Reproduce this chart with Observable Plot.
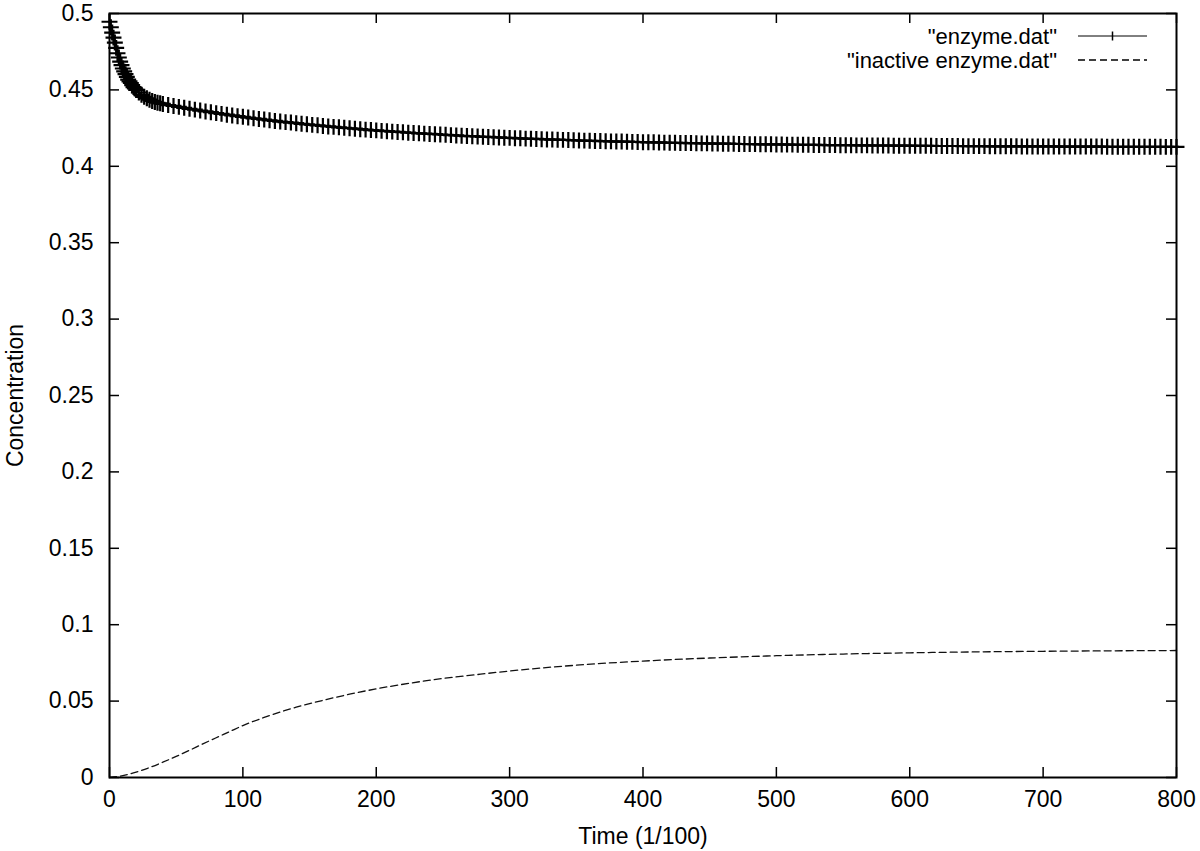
<!DOCTYPE html>
<html><head><meta charset="utf-8">
<script src="https://cdn.jsdelivr.net/npm/d3@7"></script>
<script src="https://cdn.jsdelivr.net/npm/@observablehq/plot@0.6"></script>
<style>
html,body{margin:0;padding:0;background:#fff;}
#chart{width:1200px;height:851px;}
</style></head><body><div id="chart"></div>
<script>
const xTicks = [0,100,200,300,400,500,600,700,800];
const xTickLabels = ["0","100","200","300","400","500","600","700","800"];
const yTicks = [0,0.05,0.1,0.15,0.2,0.25,0.3,0.35,0.4,0.45,0.5];
const yTickLabels = ["0","0.05","0.1","0.15","0.2","0.25","0.3","0.35","0.4","0.45","0.5"];
const seriesNames = ['"enzyme.dat"', '"inactive enzyme.dat"'];
const xLabel = "Time (1/100)";
const yLabel = "Concentration";

// "enzyme.dat": t = 0..20 every 1
const enzymeEarly = [0.4946,0.4910,0.4875,0.4842,0.4810,0.4775,0.4740,0.4712,0.4685,0.4662,0.4640,
  0.4621,0.4603,0.4585,0.4567,0.4556,0.4545,0.4531,0.4518,0.4509,0.4500];
// t = 22..38 every 2
const enzymeMid = [0.4483,0.4468,0.4455,0.4445,0.4436,0.4428,0.4421,0.4416,0.4412];
// t = 40..800 every 4
const enzymeLate = [
  0.4408,0.4401,0.4395,0.4389,0.4383,0.4376,0.4371,0.4365,0.4359,0.4354,
  0.4348,0.4343,0.4338,0.4333,0.4328,0.4324,0.4319,0.4314,0.4310,0.4306,
  0.4301,0.4297,0.4293,0.4289,0.4286,0.4282,0.4278,0.4275,0.4271,0.4268,
  0.4264,0.4261,0.4258,0.4255,0.4252,0.4249,0.4246,0.4243,0.4240,0.4237,
  0.4235,0.4232,0.4230,0.4227,0.4225,0.4223,0.4220,0.4218,0.4216,0.4214,
  0.4212,0.4210,0.4208,0.4206,0.4204,0.4202,0.4200,0.4198,0.4197,0.4195,
  0.4193,0.4192,0.4190,0.4189,0.4187,0.4186,0.4184,0.4183,0.4181,0.4180,
  0.4179,0.4177,0.4176,0.4175,0.4174,0.4173,0.4172,0.4170,0.4169,0.4168,
  0.4167,0.4166,0.4165,0.4164,0.4163,0.4162,0.4162,0.4161,0.4160,0.4159,
  0.4158,0.4157,0.4157,0.4156,0.4155,0.4154,0.4154,0.4153,0.4152,0.4152,
  0.4151,0.4150,0.4150,0.4149,0.4149,0.4148,0.4148,0.4147,0.4146,0.4146,
  0.4145,0.4145,0.4144,0.4144,0.4144,0.4143,0.4143,0.4142,0.4142,0.4141,
  0.4141,0.4141,0.4140,0.4140,0.4139,0.4139,0.4139,0.4138,0.4138,0.4138,
  0.4137,0.4137,0.4137,0.4136,0.4136,0.4136,0.4136,0.4135,0.4135,0.4135,
  0.4135,0.4134,0.4134,0.4134,0.4134,0.4133,0.4133,0.4133,0.4133,0.4133,
  0.4132,0.4132,0.4132,0.4132,0.4132,0.4131,0.4131,0.4131,0.4131,0.4131,
  0.4131,0.4130,0.4130,0.4130,0.4130,0.4130,0.4130,0.4130,0.4129,0.4129,
  0.4129,0.4129,0.4129,0.4129,0.4129,0.4129,0.4129,0.4128,0.4128,0.4128,
  0.4128,0.4128,0.4128,0.4128,0.4128,0.4128,0.4128,0.4128,0.4127,0.4127,
  0.4127];

// "inactive enzyme.dat"
const inactiveTime = [0,10,20,30,40,50,60,70,80,90,100,120,140,160,180,200,225,250,275,300,350,400,450,500,550,600,650,700,750,800];
const inactiveValue = [0,0.0012,0.0035,0.0065,0.0100,0.0138,0.0178,0.0220,0.0260,0.0300,0.0340,0.0405,0.0460,0.0505,0.0545,0.0580,0.0617,0.0648,0.0673,0.0697,0.0735,0.0762,0.0782,0.0797,0.0808,0.0816,0.0822,0.0826,0.0829,0.0831];

const enzyme = [
  ...enzymeEarly.map((v, i) => ({t: i, v})),
  ...enzymeMid.map((v, i) => ({t: 22 + 2 * i, v})),
  ...enzymeLate.map((v, i) => ({t: 40 + 4 * i, v}))
];
const inactive = inactiveTime.map((t, i) => ({t, v: inactiveValue[i]}));

const W = 1200, H = 851, mL = 109, mR = 24, mT = 13, mB = 74;
const iw = W - mL - mR, ih = H - mT - mB, tick = 10;
const font = "'Liberation Sans', Arial, Helvetica, sans-serif";

const plot = Plot.plot({
  width: W, height: H,
  marginLeft: mL, marginRight: mR, marginTop: mT, marginBottom: mB,
  style: {fontFamily: font, fontSize: "23px", color: "black", background: "white", overflow: "visible"},
  x: {domain: [0, 800], axis: null},
  y: {domain: [0, 0.5], axis: null},
  marks: [
    Plot.ruleX(xTicks, {x: d => d, insetTop: ih - tick, stroke: "black", strokeWidth: 1.5}),
    Plot.ruleX(xTicks, {x: d => d, insetBottom: ih - tick, stroke: "black", strokeWidth: 1.5}),
    Plot.ruleY(yTicks, {y: d => d, insetRight: iw - tick, stroke: "black", strokeWidth: 1.5}),
    Plot.ruleY(yTicks, {y: d => d, insetLeft: iw - tick, stroke: "black", strokeWidth: 1.5}),
    Plot.axisX({ticks: xTicks, tickFormat: d => xTickLabels[xTicks.indexOf(d)], tickSize: 0, tickPadding: 13, label: null, fontSize: 23}),
    Plot.axisY({ticks: yTicks, tickFormat: d => yTickLabels[yTicks.indexOf(d)], tickSize: 0, tickPadding: 16, label: null, fontSize: 23}),
    Plot.line(inactive, {x: "t", y: "v", stroke: "#111", strokeWidth: 1.3, strokeDasharray: "7,4", curve: "monotone-x"}),
    Plot.line(enzyme, {x: "t", y: "v", stroke: "black", strokeWidth: 1.5}),
    Plot.dot(enzyme, {x: "t", y: "v", symbol: "plus", r: 5.2, stroke: "black", strokeWidth: 2.2}),
    Plot.frame({stroke: "black", strokeWidth: 2}),
    Plot.text([xLabel], {frameAnchor: "bottom", dy: 59, lineAnchor: "middle", textAnchor: "middle", text: d => d, fontSize: 23, fill: "black"}),
    Plot.text([yLabel], {frameAnchor: "left", dx: -94, rotate: -90, lineAnchor: "middle", textAnchor: "middle", text: d => d, fontSize: 23, fill: "black"})
  ]
});

// Legend (gnuplot-style, top right inside the frame)
const svg = d3.select(plot);
const lg = svg.append("g").attr("font-family", font).attr("font-size", 22);
const rows = [{name: seriesNames[0], y: 36, dash: null, marker: true}, {name: seriesNames[1], y: 60, dash: "7,4", marker: false}];
for (const r of rows) {
  lg.append("text").attr("x", 1057).attr("y", r.y).attr("dy", "0.35em").attr("text-anchor", "end").attr("fill", "black").text(r.name);
  lg.append("line").attr("x1", 1078).attr("x2", 1147).attr("y1", r.y).attr("y2", r.y)
    .attr("stroke", "black").attr("stroke-width", r.dash ? 1.3 : 1).attr("stroke-dasharray", r.dash);
  if (r.marker) {
    lg.append("line").attr("x1", 1112.5).attr("x2", 1112.5).attr("y1", r.y - 4.5).attr("y2", r.y + 4.5).attr("stroke", "black").attr("stroke-width", 1.5);
  }
}
document.getElementById("chart").append(plot);
</script>
</body></html>
